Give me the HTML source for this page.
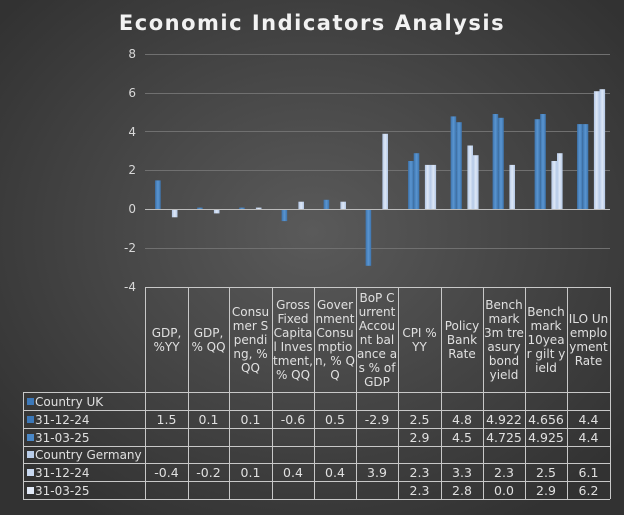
<!DOCTYPE html>
<html><head><meta charset="utf-8"><style>
html,body{margin:0;padding:0;background:#333;}
svg{display:block;font-family:"DejaVu Sans","Liberation Sans",sans-serif;}
</style></head><body>
<svg width="624" height="515" viewBox="0 0 624 515" xmlns="http://www.w3.org/2000/svg">
<defs>
<radialGradient id="bg" cx="50%" cy="45%" r="65%">
<stop offset="0" stop-color="#5a5a5a"/><stop offset="1" stop-color="#323232"/>
</radialGradient>
<linearGradient id="uk" x1="0" x2="1" y1="0" y2="0">
<stop offset="0" stop-color="#3c74ae"/><stop offset="0.5" stop-color="#5a95d0"/><stop offset="1" stop-color="#3c74ae"/>
</linearGradient>
<linearGradient id="de" x1="0" x2="1" y1="0" y2="0">
<stop offset="0" stop-color="#b4c8e6"/><stop offset="0.5" stop-color="#dde7f6"/><stop offset="1" stop-color="#b4c8e6"/>
</linearGradient>
</defs>
<rect width="624" height="515" fill="url(#bg)"/>
<text x="312" y="30" text-anchor="middle" font-size="21" font-weight="bold" fill="#f2f2f2" letter-spacing="1.5">Economic Indicators Analysis</text>
<g stroke="#707070" stroke-width="1">
<line x1="145" x2="610" y1="54.5" y2="54.5"/>
<line x1="145" x2="610" y1="93.5" y2="93.5"/>
<line x1="145" x2="610" y1="131.5" y2="131.5"/>
<line x1="145" x2="610" y1="170.5" y2="170.5"/>
<line x1="145" x2="610" y1="248.5" y2="248.5"/>
</g>
<g font-size="12" fill="#d8d8d8" text-anchor="end">
<text x="136" y="58">8</text><text x="136" y="97">6</text><text x="136" y="136">4</text>
<text x="136" y="174">2</text><text x="136" y="213">0</text><text x="136" y="252">-2</text><text x="136" y="291">-4</text>
</g>
<g fill="url(#uk)">
<rect x="155.1" y="180.4" width="5.6" height="29.1"/>
<rect x="197.1" y="207.6" width="5.6" height="1.9"/>
<rect x="239.1" y="207.6" width="5.6" height="1.9"/>
<rect x="281.6" y="209.5" width="5.6" height="11.6"/>
<rect x="323.6" y="199.8" width="5.6" height="9.7"/>
<rect x="365.6" y="209.5" width="5.6" height="56.3"/>
<rect x="408.1" y="161" width="5.6" height="48.5"/>
<rect x="413.7" y="153.2" width="5.6" height="56.3"/>
<rect x="450.6" y="116.4" width="5.6" height="93.1"/>
<rect x="456.2" y="122.2" width="5.6" height="87.3"/>
<rect x="492.6" y="114" width="5.6" height="95.5"/>
<rect x="498.2" y="117.8" width="5.6" height="91.7"/>
<rect x="534.6" y="119.2" width="5.6" height="90.3"/>
<rect x="540.2" y="114" width="5.6" height="95.5"/>
<rect x="577.1" y="124.1" width="5.6" height="85.4"/>
<rect x="582.7" y="124.1" width="5.6" height="85.4"/>
</g>
<g fill="url(#de)">
<rect x="171.9" y="209.5" width="5.6" height="7.8"/>
<rect x="213.9" y="209.5" width="5.6" height="3.9"/>
<rect x="255.9" y="207.6" width="5.6" height="1.9"/>
<rect x="298.4" y="201.7" width="5.6" height="7.8"/>
<rect x="340.4" y="201.7" width="5.6" height="7.8"/>
<rect x="382.4" y="133.8" width="5.6" height="75.7"/>
<rect x="424.9" y="164.9" width="5.6" height="44.6"/>
<rect x="430.5" y="164.9" width="5.6" height="44.6"/>
<rect x="467.4" y="145.5" width="5.6" height="64"/>
<rect x="473" y="155.2" width="5.6" height="54.3"/>
<rect x="509.4" y="164.9" width="5.6" height="44.6"/>
<rect x="551.4" y="161" width="5.6" height="48.5"/>
<rect x="557" y="153.2" width="5.6" height="56.3"/>
<rect x="593.9" y="91.2" width="5.6" height="118.3"/>
<rect x="599.5" y="89.2" width="5.6" height="120.3"/>
</g>
<line x1="145" x2="610" y1="209.5" y2="209.5" stroke="#bbb" stroke-width="1"/>
<g stroke="#c8c8c8" stroke-width="1">
<line x1="145.5" y1="287" x2="145.5" y2="499"/>
<line x1="188.5" y1="287" x2="188.5" y2="499"/>
<line x1="229.5" y1="287" x2="229.5" y2="499"/>
<line x1="272.5" y1="287" x2="272.5" y2="499"/>
<line x1="314.5" y1="287" x2="314.5" y2="499"/>
<line x1="356.5" y1="287" x2="356.5" y2="499"/>
<line x1="398.5" y1="287" x2="398.5" y2="499"/>
<line x1="441.5" y1="287" x2="441.5" y2="499"/>
<line x1="483.5" y1="287" x2="483.5" y2="499"/>
<line x1="525.5" y1="287" x2="525.5" y2="499"/>
<line x1="567.5" y1="287" x2="567.5" y2="499"/>
<line x1="610.5" y1="287" x2="610.5" y2="499"/>
<line x1="23.5" y1="392" x2="23.5" y2="499"/>
<line x1="145" y1="287.5" x2="610" y2="287.5"/>
<line x1="23" y1="392.5" x2="610" y2="392.5"/>
<line x1="23" y1="410.5" x2="610" y2="410.5"/>
<line x1="23" y1="428.5" x2="610" y2="428.5"/>
<line x1="23" y1="446.5" x2="610" y2="446.5"/>
<line x1="23" y1="463.5" x2="610" y2="463.5"/>
<line x1="23" y1="481.5" x2="610" y2="481.5"/>
<line x1="23" y1="499.5" x2="610" y2="499.5"/>
</g>
<g font-size="12" fill="#e0e0e0" text-anchor="middle">
<text x="166.5" y="337">GDP,</text><text x="166.5" y="351">%YY</text>
<text x="208.5" y="337">GDP,</text><text x="208.5" y="351">% QQ</text>
<text x="250.5" y="316">Consu</text><text x="250.5" y="330">mer S</text><text x="250.5" y="344">pendi</text><text x="250.5" y="358">ng, %</text><text x="250.5" y="372">QQ</text>
<text x="293" y="309">Gross</text><text x="293" y="323">Fixed</text><text x="293" y="337">Capita</text><text x="293" y="351">l Inves</text><text x="293" y="365">tment,</text><text x="293" y="379">% QQ</text>
<text x="335" y="309">Gover</text><text x="335" y="323">nment</text><text x="335" y="337">Consu</text><text x="335" y="351">mptio</text><text x="335" y="365">n, % Q</text><text x="335" y="379">Q</text>
<text x="377" y="302">BoP C</text><text x="377" y="316">urrent</text><text x="377" y="330">Accou</text><text x="377" y="344">nt bal</text><text x="377" y="358">ance a</text><text x="377" y="372">s % of</text><text x="377" y="386">GDP</text>
<text x="419.5" y="337">CPI %</text><text x="419.5" y="351">YY</text>
<text x="462" y="330">Policy</text><text x="462" y="344">Bank</text><text x="462" y="358">Rate</text>
<text x="504" y="309">Bench</text><text x="504" y="323">mark</text><text x="504" y="337">3m tre</text><text x="504" y="351">asury</text><text x="504" y="365">bond</text><text x="504" y="379">yield</text>
<text x="546" y="316">Bench</text><text x="546" y="330">mark</text><text x="546" y="344">10yea</text><text x="546" y="358">r gilt y</text><text x="546" y="372">ield</text>
<text x="588.5" y="323">ILO Un</text><text x="588.5" y="337">emplo</text><text x="588.5" y="351">yment</text><text x="588.5" y="365">Rate</text>
</g>
<g font-size="12" fill="#e0e0e0">
<rect x="27" y="398" width="7" height="7" fill="#3c78b8"/><text x="35" y="406">Country UK</text>
<rect x="27" y="416" width="7" height="7" fill="#3c78b8"/><text x="35" y="424">31-12-24</text>
<rect x="27" y="434" width="7" height="7" fill="#4a88c8"/><text x="35" y="442">31-03-25</text>
<rect x="27" y="451" width="7" height="7" fill="#b8cce8"/><text x="35" y="459">Country Germany</text>
<rect x="27" y="469" width="7" height="7" fill="#c8d8f0"/><text x="35" y="477">31-12-24</text>
<rect x="27" y="487" width="7" height="7" fill="#e0e8f6"/><text x="35" y="495">31-03-25</text>
</g>
<g font-size="12.5" fill="#e0e0e0" text-anchor="middle">
<text x="166.5" y="424">1.5</text><text x="208.5" y="424">0.1</text><text x="250.5" y="424">0.1</text><text x="293" y="424">-0.6</text><text x="335" y="424">0.5</text><text x="377" y="424">-2.9</text><text x="419.5" y="424">2.5</text><text x="462" y="424">4.8</text><text x="504" y="424">4.922</text><text x="546" y="424">4.656</text><text x="588.5" y="424">4.4</text>
<text x="419.5" y="442">2.9</text><text x="462" y="442">4.5</text><text x="504" y="442">4.725</text><text x="546" y="442">4.925</text><text x="588.5" y="442">4.4</text>
<text x="166.5" y="477">-0.4</text><text x="208.5" y="477">-0.2</text><text x="250.5" y="477">0.1</text><text x="293" y="477">0.4</text><text x="335" y="477">0.4</text><text x="377" y="477">3.9</text><text x="419.5" y="477">2.3</text><text x="462" y="477">3.3</text><text x="504" y="477">2.3</text><text x="546" y="477">2.5</text><text x="588.5" y="477">6.1</text>
<text x="419.5" y="495">2.3</text><text x="462" y="495">2.8</text><text x="504" y="495">0.0</text><text x="546" y="495">2.9</text><text x="588.5" y="495">6.2</text>
</g>
</svg>
</body></html>
